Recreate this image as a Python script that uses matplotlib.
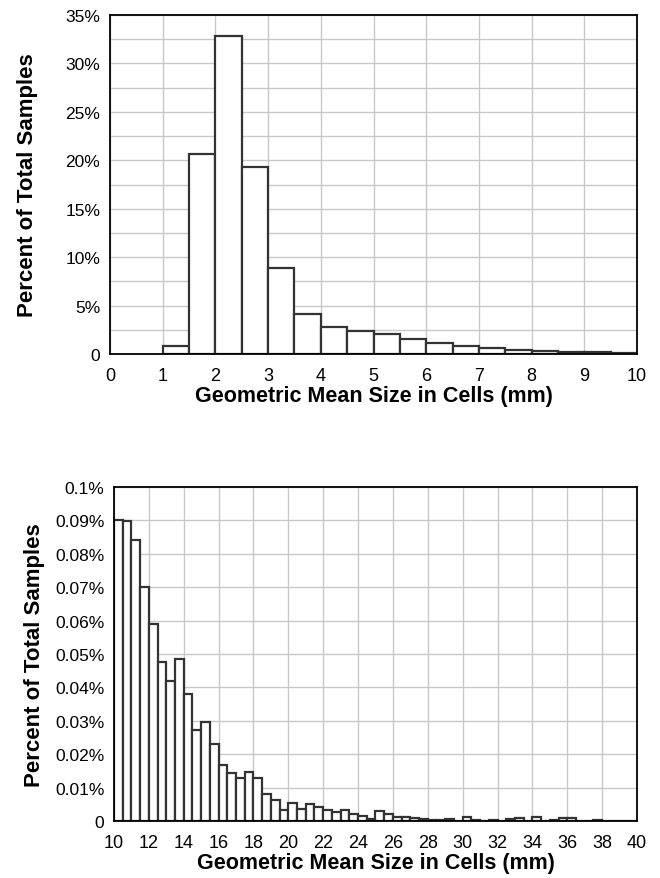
import matplotlib
matplotlib.use("Agg")
import matplotlib.pyplot as plt
import numpy as np
from matplotlib.ticker import MultipleLocator, FuncFormatter

plt.rcParams['font.family'] = ['Liberation Sans', 'DejaVu Sans']

# Datos - grafica superior (0-10 mm, bins de 0.5)
bins_top = np.arange(1.0, 10.0, 0.5)
pct_top = [0.86, 20.6, 32.8, 19.3, 8.84, 4.16, 2.79, 2.37, 2.03, 1.58,
           1.17, 0.83, 0.58, 0.41, 0.31, 0.24, 0.17, 0.12]

# Datos - grafica inferior (10-40 mm, bins de 0.5)
bins_bot = np.arange(10.0, 40.0, 0.5)
pct_bot = [0.0900, 0.0897, 0.0842, 0.0700, 0.0590, 0.0477, 0.0420, 0.0485,
           0.0380, 0.0272, 0.0297, 0.0230, 0.0168, 0.0143, 0.0128, 0.0146,
           0.0128, 0.0080, 0.0063, 0.0033, 0.0055, 0.0037, 0.0051, 0.0042,
           0.0034, 0.0028, 0.0034, 0.0022, 0.0016, 0.0005, 0.0029, 0.0022,
           0.0012, 0.0012, 0.0009, 0.0005, 0.0002, 0.0002, 0.0007, 0.0001,
           0.0011, 0.0002, 0.0000, 0.0003, 0.0000, 0.0007, 0.0008, 0.0000,
           0.0012, 0.0000, 0.0004, 0.0008, 0.0008, 0.0000, 0.0000, 0.0004,
           0.0000, 0.0000, 0.0000, 0.0000]

xlabel = 'Geometric Mean Size in Cells (mm)'
ylabel = 'Percent of Total Samples'


def pct_fmt(v, pos):
    if abs(v) < 1e-12:
        return '0'
    return f'{v:g}%'


def style(ax, ylpad):
    ax.set_axisbelow(True)
    ax.grid(True, which='both', color='#c8c8c8', linewidth=1.0)
    ax.tick_params(which='both', length=0, labelsize=12.5)
    ax.tick_params(axis='x', pad=9, labelsize=13)
    ax.tick_params(axis='y', pad=7)
    for s in ax.spines.values():
        s.set_linewidth(1.3)
        s.set_color('black')
    ax.yaxis.set_major_formatter(FuncFormatter(pct_fmt))
    ax.set_xlabel(xlabel, fontsize=15.5, fontweight='bold', labelpad=1)
    ax.set_ylabel(ylabel, fontsize=16, fontweight='bold', labelpad=ylpad)


fig = plt.figure(figsize=(6.6, 8.79), dpi=100)

# Grafica superior
ax1 = fig.add_axes([0.1667, 0.5961, 0.7985, 0.3857])
ax1.bar(bins_top, pct_top, width=0.5, align='edge', color='white',
        edgecolor='#333333', linewidth=1.6)
ax1.set_xlim(0, 10)
ax1.set_ylim(0, 35)
ax1.xaxis.set_major_locator(MultipleLocator(1))
ax1.yaxis.set_major_locator(MultipleLocator(5))
ax1.yaxis.set_minor_locator(MultipleLocator(2.5))
style(ax1, 20)

# Grafica inferior
ax2 = fig.add_axes([0.1727, 0.0648, 0.7924, 0.3800])
ax2.bar(bins_bot, pct_bot, width=0.5, align='edge', color='white',
        edgecolor='#333333', linewidth=1.6)
ax2.set_xlim(10, 40)
ax2.set_ylim(0, 0.1)
ax2.xaxis.set_major_locator(MultipleLocator(2))
ax2.yaxis.set_major_locator(MultipleLocator(0.01))
style(ax2, 7)

fig.savefig('out.png', dpi=100)
